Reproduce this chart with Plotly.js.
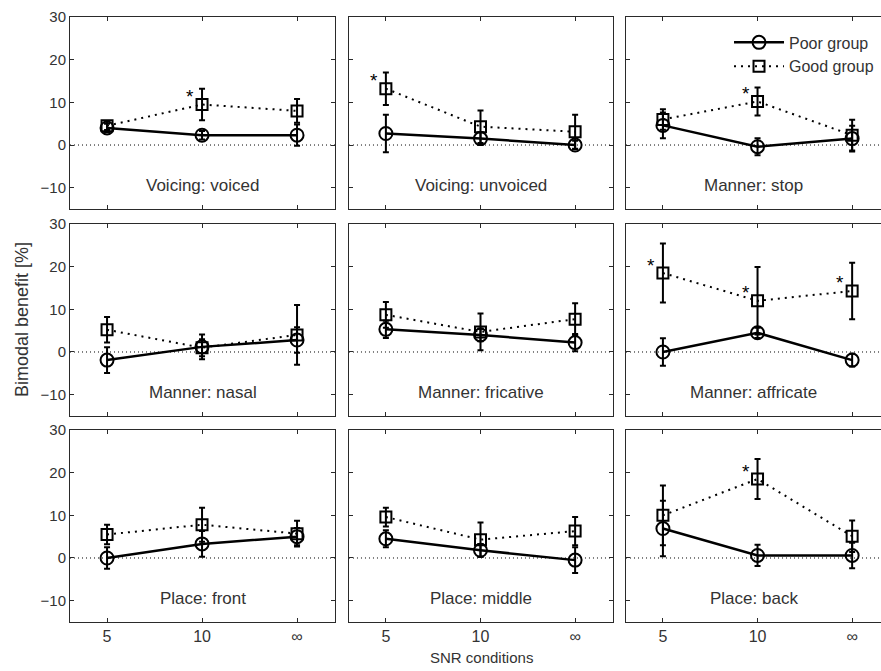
<!DOCTYPE html>
<html>
<head>
<meta charset="utf-8">
<script src="https://cdn.plot.ly/plotly-3.0.1.min.js"></script>
<style>html,body{margin:0;padding:0;background:#fff;}#chart{width:881px;height:671px;}</style>
</head>
<body>
<div id="chart"></div>
<script>
// ---- data ----
const snrLabels = ['5', '10', '\u221e'];
const panelNames = ['Voicing: voiced', 'Voicing: unvoiced', 'Manner: stop',
                    'Manner: nasal', 'Manner: fricative', 'Manner: affricate',
                    'Place: front', 'Place: middle', 'Place: back'];
const poorMean = [
  [4.0, 2.3, 2.3],
  [2.7, 1.5, 0.0],
  [4.6, -0.4, 1.5],
  [-1.9, 1.2, 2.8],
  [5.3, 4.0, 2.2],
  [0.0, 4.5, -1.9],
  [0.0, 3.3, 5.0],
  [4.5, 1.8, -0.5],
  [6.9, 0.6, 0.6]
];
const poorErr = [
  [1.0, 1.0, 2.5],
  [4.4, 1.5, 1.0],
  [3.0, 2.0, 3.0],
  [3.0, 2.9, 3.0],
  [2.0, 1.5, 2.0],
  [3.2, 1.2, 1.5],
  [2.5, 3.0, 2.0],
  [2.0, 1.5, 3.0],
  [6.5, 2.5, 3.0]
];
const goodMean = [
  [4.5, 9.5, 8.0],
  [13.2, 4.3, 3.1],
  [6.0, 10.2, 2.3],
  [5.2, 1.0, 4.0],
  [8.7, 4.7, 7.7],
  [18.5, 12.0, 14.3],
  [5.5, 7.8, 5.7],
  [9.6, 4.3, 6.3],
  [10.0, 18.5, 5.1]
];
const goodErr = [
  [1.0, 3.7, 2.8],
  [3.8, 3.8, 4.0],
  [2.4, 3.3, 3.6],
  [3.0, 2.0, 7.0],
  [3.0, 4.3, 3.7],
  [6.9, 7.9, 6.6],
  [2.3, 4.0, 3.0],
  [2.2, 4.0, 3.3],
  [7.0, 4.7, 3.7]
];
const significant = [
  [0, 1, 0],
  [1, 0, 0],
  [0, 1, 0],
  [0, 0, 0],
  [0, 0, 0],
  [1, 1, 1],
  [0, 0, 0],
  [0, 0, 0],
  [0, 1, 0]
];
const yTicks = [-10, 0, 10, 20, 30];

// ---- layout geometry ----
const colDomains = [[0, 0.3268], [0.344, 0.6695], [0.6856, 1]];
const rowDomains = [[0.6826, 1], [0.3405, 0.6579], [0, 0.3174]];
const colRanges = [[-0.39, 2.4], [-0.39, 2.4], [-0.39, 2.305]];
const txtColor = '#333';
const axColor = '#2a2a2a';

const traces = [];
const layout = {
  width: 881, height: 671,
  margin: {l: 70, r: 0, t: 17, b: 49, pad: 0},
  paper_bgcolor: '#fff', plot_bgcolor: '#fff',
  font: {family: 'Liberation Sans, Arial, sans-serif', color: txtColor, size: 15},
  showlegend: true,
  legend: {
    x: 0.8126, y: 0.986, xanchor: 'left', yanchor: 'top',
    bgcolor: 'rgba(0,0,0,0)', borderwidth: 0,
    font: {size: 16, color: txtColor},
    itemwidth: 50, tracegroupgap: 0
  },
  shapes: [], annotations: []
};

for (let p = 0; p < 9; p++) {
  const r = Math.floor(p / 3), c = p % 3;
  const n = p + 1;
  const xa = 'x' + (n === 1 ? '' : n), ya = 'y' + (n === 1 ? '' : n);
  const xKey = 'xaxis' + (n === 1 ? '' : n), yKey = 'yaxis' + (n === 1 ? '' : n);

  layout[xKey] = {
    domain: colDomains[c], anchor: ya, type: 'category',
    range: colRanges[c], tickvals: snrLabels, ticktext: snrLabels,
    showticklabels: r === 2, ticks: 'inside', ticklen: 4, tickwidth: 1, tickcolor: axColor,
    showline: true, linecolor: axColor, linewidth: 1, mirror: 'ticks',
    showgrid: false, zeroline: false, fixedrange: true,
    tickfont: {size: 16, color: txtColor}
  };
  layout[yKey] = {
    domain: rowDomains[r], anchor: xa,
    range: [-15, 30], tickvals: yTicks,
    showticklabels: c === 0, ticks: 'inside', ticklen: 4, tickwidth: 1, tickcolor: axColor,
    showline: true, linecolor: axColor, linewidth: 1, mirror: c === 2 ? false : 'ticks',
    showgrid: false, zeroline: false, fixedrange: true,
    tickfont: {size: 15, color: txtColor}
  };

  // zero reference line
  layout.shapes.push({
    type: 'line', xref: xa + ' domain', yref: ya, x0: 0, x1: 1, y0: 0, y1: 0,
    line: {color: '#000', width: 1, dash: '1px,3px'}, layer: 'below'
  });

  traces.push({
    x: snrLabels, y: goodMean[p], xaxis: xa, yaxis: ya,
    name: 'Good group', legendrank: 2, showlegend: p === 0,
    mode: 'lines+markers', cliponaxis: false,
    line: {color: '#000', width: 2, dash: '2px,5px'},
    marker: {symbol: 'square-open', size: 11, color: '#000', line: {width: 2, color: '#000'}},
    error_y: {type: 'data', array: goodErr[p], visible: true, color: '#000', thickness: 2, width: 3}
  });
  traces.push({
    x: snrLabels, y: poorMean[p], xaxis: xa, yaxis: ya,
    name: 'Poor group', legendrank: 1, showlegend: p === 0,
    mode: 'lines+markers', cliponaxis: false,
    line: {color: '#000', width: 2.5},
    marker: {symbol: 'circle-open', size: 13, color: '#000', line: {width: 2, color: '#000'}},
    error_y: {type: 'data', array: poorErr[p], visible: true, color: '#000', thickness: 2, width: 3}
  });

  // panel label
  layout.annotations.push({
    xref: xa + ' domain', yref: ya, x: 0.5, y: -9.6, text: panelNames[p],
    showarrow: false, font: {size: 17, color: txtColor}, xanchor: 'center', yanchor: 'middle'
  });

  // significance asterisks (x given as category index)
  for (let k = 0; k < 3; k++) {
    if (significant[p][k]) {
      layout.annotations.push({
        xref: xa, yref: ya, x: k, y: goodMean[p][k], text: '*',
        showarrow: false, xshift: -12, yshift: 8,
        font: {size: 19, color: '#000'}, xanchor: 'center', yanchor: 'middle'
      });
    }
  }
}

// axis titles
layout.annotations.push({
  xref: 'paper', yref: 'paper', x: -48 / 811, y: 0.4992, text: 'Bimodal benefit [%]',
  textangle: -90, showarrow: false, font: {size: 18, color: txtColor},
  xanchor: 'center', yanchor: 'middle'
});
layout.annotations.push({
  xref: 'paper', yref: 'paper', x: 0.5073, y: -35 / 605, text: 'SNR conditions',
  showarrow: false, font: {size: 15, color: txtColor},
  xanchor: 'center', yanchor: 'middle'
});

Plotly.newPlot('chart', traces, layout, {displayModeBar: false, staticPlot: true});
</script>
</body>
</html>
